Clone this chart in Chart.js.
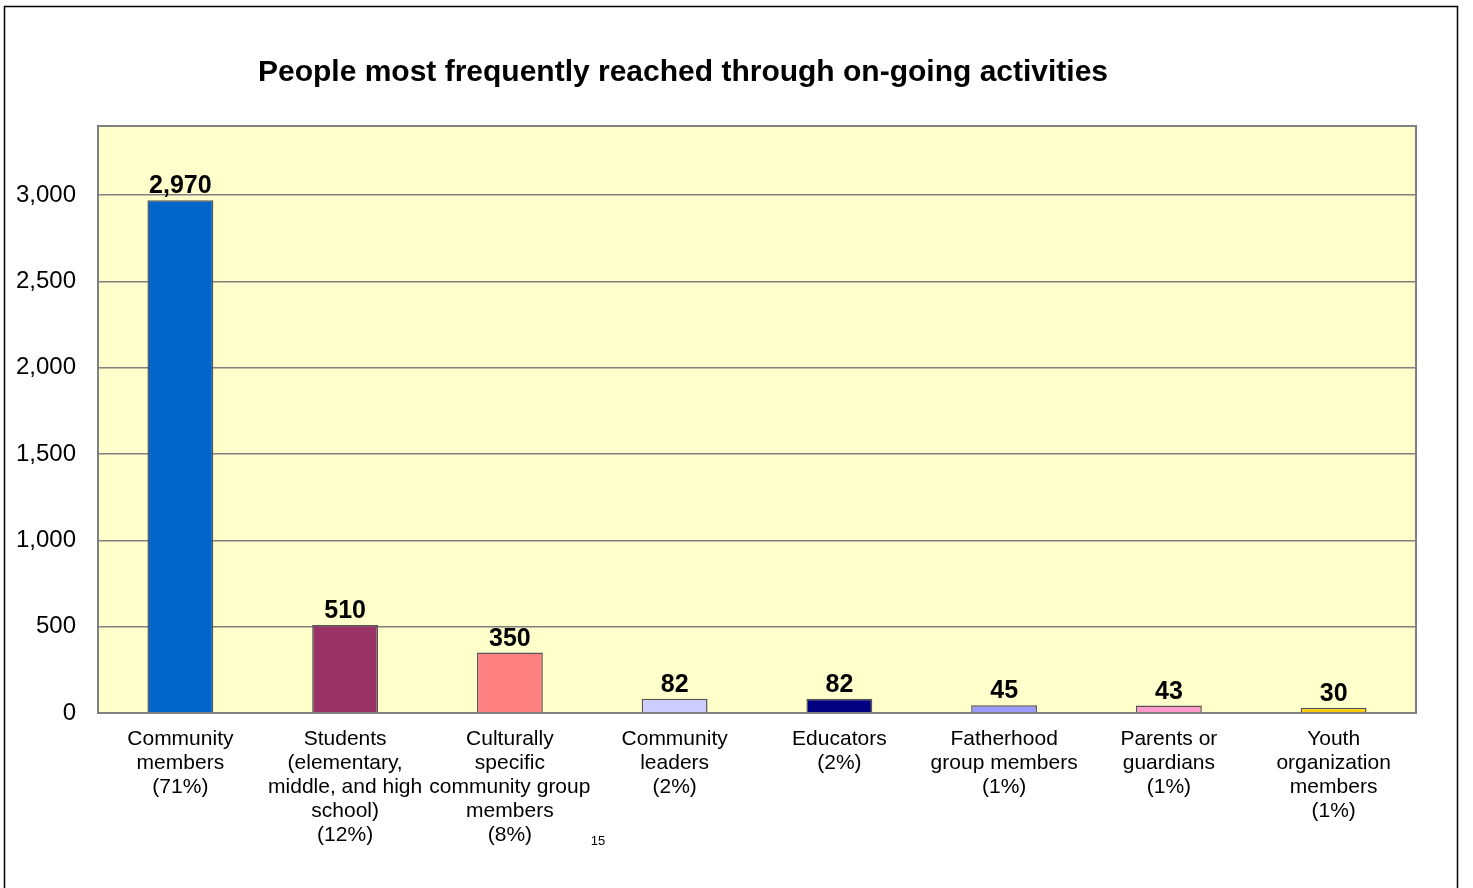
<!DOCTYPE html>
<html>
<head>
<meta charset="utf-8">
<script src="https://cdn.jsdelivr.net/npm/chart.js@4.4.1/dist/chart.umd.min.js"></script>
<style>
html,body{margin:0;padding:0;background:#fff;}
#wrap{position:relative;width:1473px;height:888px;}
</style>
</head>
<body>
<div id="wrap"><canvas id="c" width="1473" height="888"></canvas></div>
<script>
const titleText = "People most frequently reached through on-going activities";
const categories = [
  ["Community","members","(71%)"],
  ["Students","(elementary,","middle, and high","school)","(12%)"],
  ["Culturally","specific","community group","members","(8%)"],
  ["Community","leaders","(2%)"],
  ["Educators","(2%)"],
  ["Fatherhood","group members","(1%)"],
  ["Parents or","guardians","(1%)"],
  ["Youth","organization","members","(1%)"]
];
const values = [2970, 510, 350, 82, 82, 45, 43, 30];
const barColors = ["#0066CC","#993366","#FF8080","#CCCCFF","#000080","#9999FF","#FF99CC","#FFCC00"];
const yTicks = [0, 500, 1000, 1500, 2000, 2500, 3000];
const yMax = 3400;
const pageNumber = "15";

const FONT = "'Liberation Sans', Arial, sans-serif";

const decor = {
  id: 'decor',
  beforeDraw(chart) {
    const {ctx, chartArea: a} = chart;
    ctx.save();
    ctx.fillStyle = '#fff';
    ctx.fillRect(0, 0, chart.width, chart.height);
    // outer frame
    ctx.strokeStyle = '#000';
    ctx.lineWidth = 1.5;
    ctx.strokeRect(4.5, 6.5, 1453, 900);
    // plot background
    ctx.fillStyle = '#FFFFCC';
    ctx.fillRect(a.left, a.top, a.right - a.left, a.bottom - a.top);
    ctx.restore();
  },
  afterDatasetsDraw(chart) {
    const {ctx, chartArea: a} = chart;
    ctx.save();
    // plot border
    ctx.strokeStyle = '#808080';
    ctx.lineWidth = 2;
    ctx.strokeRect(a.left, a.top, a.right - a.left, a.bottom - a.top);
    // value labels
    const meta = chart.getDatasetMeta(0);
    ctx.fillStyle = '#000';
    ctx.font = "bold 25px " + FONT;
    ctx.textAlign = 'center';
    ctx.textBaseline = 'alphabetic';
    meta.data.forEach((bar, i) => {
      ctx.fillText(values[i].toLocaleString('en-US'), bar.x, bar.y - 7);
    });
    // title
    ctx.font = "bold 30px " + FONT;
    ctx.fillText(titleText, 683, 81);
    // page number
    ctx.font = "13px " + FONT;
    ctx.fillText(pageNumber, 598, 845);
    ctx.restore();
  }
};

new Chart(document.getElementById('c'), {
  type: 'bar',
  data: {
    labels: categories,
    datasets: [{
      data: values,
      backgroundColor: barColors,
      borderColor: '#555555',
      borderWidth: 1.5,
      categoryPercentage: 1.0,
      barPercentage: 0.4
    }]
  },
  options: {
    responsive: false,
    animation: false,
    devicePixelRatio: 1,
    layout: { padding: { left: 0, top: 126, right: 57, bottom: 0 } },
    plugins: { legend: { display: false }, tooltip: { enabled: false }, title: { display: false } },
    scales: {
      x: {
        grid: { display: false },
        border: { display: false },
        ticks: {
          color: '#000',
          font: { family: FONT, size: 21, lineHeight: 1.143 },
          maxRotation: 0,
          autoSkip: false,
          padding: 6
        },
        afterFit(scale) { scale.height = 175; }
      },
      y: {
        min: 0,
        max: yMax,
        grid: { color: '#808080', lineWidth: 1.5, drawTicks: false },
        border: { display: false },
        ticks: {
          color: '#000',
          font: { family: FONT, size: 24 },
          padding: 22,
          callback: v => v.toLocaleString('en-US')
        },
        afterBuildTicks(scale) { scale.ticks = yTicks.map(v => ({ value: v })); },
        afterFit(scale) { scale.width = 98; }
      }
    }
  },
  plugins: [decor]
});
</script>
</body>
</html>
